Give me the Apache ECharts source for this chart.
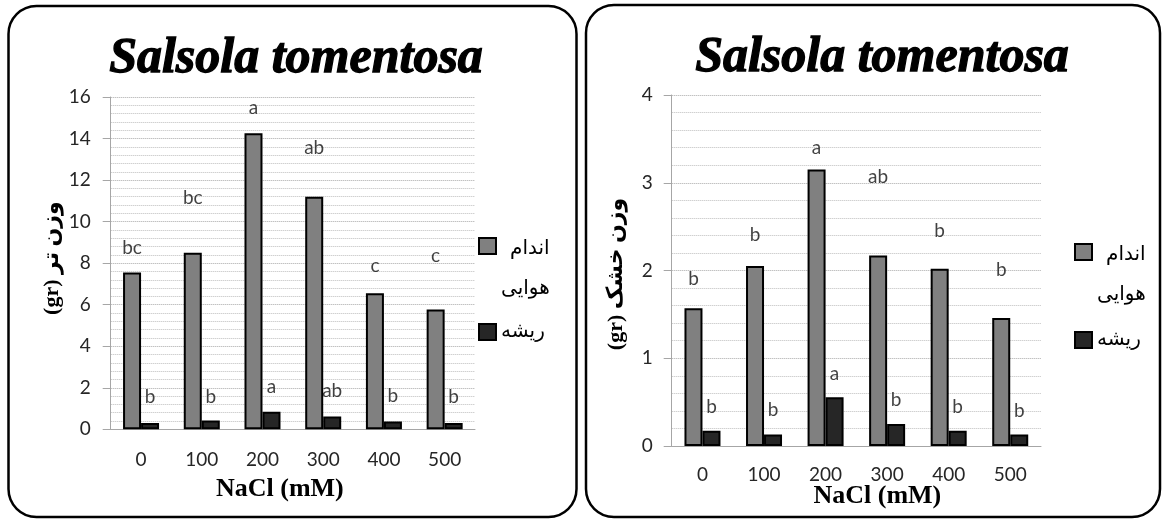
<!DOCTYPE html>
<html><head><meta charset="utf-8">
<script src="https://cdn.jsdelivr.net/npm/echarts@6/dist/echarts.min.js"></script>
<style>html,body{margin:0;padding:0;background:#fff}#c{width:1163px;height:521px}</style>
</head><body><div id="c"></div><script>
const categories = ['0', '100', '200', '300', '400', '500'];
const shootName = 'اندام هوایی';
const rootName = 'ریشه';
const chartTitle = 'Salsola tomentosa';
const xName = 'NaCl (mM)';
const freshYName = '(gr) وزن تر';
const dryYName = '(gr) وزن خشک';
const freshShoot = [7.55, 8.5, 14.25, 11.2, 6.55, 5.77];
const freshRoot = [0.3, 0.42, 0.85, 0.62, 0.37, 0.3];
const dryShoot = [1.57, 2.05, 3.15, 2.17, 2.02, 1.46];
const dryRoot = [0.175, 0.13, 0.555, 0.25, 0.175, 0.13];
const freshShootLetters = ['bc', 'bc', 'a', 'ab', 'c', 'c'];
const freshRootLetters = ['b', 'b', 'a', 'ab', 'b', 'b'];
const dryShootLetters = ['b', 'b', 'a', 'ab', 'b', 'b'];
const dryRootLetters = ['b', 'b', 'a', 'b', 'b', 'b'];
const freshShootLetterY = [8.73, 11.14, 15.5, 13.54, 7.86, 8.35];
const freshRootLetterY = [1.54, 1.57, 2.02, 1.86, 1.6, 1.54];
const dryShootLetterY = [1.9, 2.41, 3.4, 3.07, 2.45, 2.01];
const dryRootLetterY = [0.45, 0.41, 0.82, 0.52, 0.45, 0.4];

const AX = '#a6a6a6';
const LBL = {fontFamily: 'Lato', fontSize: 19, color: '#262626'};
function xAxis(gi, gap, pad) {
  return {
    type: 'category', gridIndex: gi, data: categories,
    axisLine: {lineStyle: {color: AX, width: 1}},
    axisTick: {length: 7, lineStyle: {color: AX}},
    axisLabel: Object.assign({margin: gi === 0 ? 22 : 20, lineHeight: 18}, LBL),
    name: xName, nameLocation: 'middle', nameGap: gap, nameMoveOverlap: false,
    nameTextStyle: {fontFamily: 'Liberation Serif', fontWeight: 'bold', fontSize: 26, lineHeight: 26, color: '#000', padding: pad}
  };
}
function yAxis(gi, max, interval, name, gap, pad, margin) {
  return {
    type: 'value', gridIndex: gi, min: 0, max: max, interval: interval,
    axisLine: {show: true, lineStyle: {color: AX, width: 1}},
    axisTick: {show: true, length: 8, lineStyle: {color: AX}},
    axisLabel: Object.assign({margin: margin}, LBL),
    splitLine: {show: true, lineStyle: {color: '#a8a8a8', type: 'dotted', width: 1}},
    minorTick: {show: false, splitNumber: 5},
    minorSplitLine: {show: true, lineStyle: {color: '#bdbdbd', type: 'dotted', width: 1}},
    name: name, nameLocation: 'middle', nameGap: gap, nameMoveOverlap: false,
    nameTextStyle: {fontFamily: "'Liberation Serif','DejaVu Sans'", fontWeight: 'bold', fontSize: 22, color: '#000', padding: pad}
  };
}
function bar(name, gi, data, color) {
  return {type: 'bar', name: name, xAxisIndex: gi, yAxisIndex: gi, data: data, barWidth: 18, barGap: '0%',
    itemStyle: {color: color, borderColor: '#000', borderWidth: 2}, z: 3};
}
function letters(gi, ys, txt, dx) {
  return {type: 'scatter', xAxisIndex: gi, yAxisIndex: gi, symbolSize: 1, silent: true, z: 5,
    itemStyle: {color: 'rgba(0,0,0,0)'},
    data: ys.map((y, i) => [i, y]),
    label: {show: true, position: 'inside', offset: [dx, 0], formatter: p => txt[p.dataIndex],
      fontFamily: 'Lato', fontSize: 19, color: '#111'}};
}
function legends(left, top1, top2) {
  return [
    {data: [shootName], orient: 'vertical', left: left, top: top1, padding: 0, itemWidth: 17, itemHeight: 16,
      icon: 'rect', selectedMode: false, itemGap: 0,
      formatter: () => '{a|اندام}\n{a|هوایی}',
      textStyle: {padding: [46, 0, 0, 0], rich: {a: {align: 'right', fontFamily: 'DejaVu Sans', fontSize: 20, lineHeight: 40, color: '#000'}}}},
    {data: [rootName], orient: 'vertical', left: left, top: top2, padding: 0, itemWidth: 17, itemHeight: 16,
      icon: 'rect', selectedMode: false,
      textStyle: {fontFamily: 'DejaVu Sans', fontSize: 20, lineHeight: 16, color: '#000'}}
  ];
}
const titleStyle = {fontFamily: 'Liberation Serif', fontStyle: 'italic', fontWeight: 'bold', fontSize: 50, lineHeight: 50, color: '#000',
  textBorderColor: '#000', textBorderWidth: 1.3};
const chart = echarts.init(document.getElementById('c'));
chart.setOption({
  backgroundColor: '#fff',
  animation: false,
  title: [
    {text: chartTitle, left: 296, top: 34, textAlign: 'center', padding: 0, textStyle: titleStyle},
    {text: chartTitle, left: 882, top: 33, textAlign: 'center', padding: 0, textStyle: titleStyle}
  ],
  graphic: [
    {type: 'rect', shape: {x: 8.5, y: 6, width: 568, height: 511, r: 28}, style: {fill: 'none', stroke: '#000', lineWidth: 2.5}, z: 100},
    {type: 'rect', shape: {x: 586, y: 5, width: 574, height: 512, r: 28}, style: {fill: 'none', stroke: '#000', lineWidth: 2.5}, z: 100}
  ],
  legend: legends(478, 237, 322).concat(legends(1074, 243, 330)),
  grid: [
    {left: 110.7, top: 97, width: 364.3, height: 332.3},
    {left: 671.7, top: 95, width: 369.3, height: 351}
  ],
  xAxis: [xAxis(0, 47, [0, 26, 0, 0]), xAxis(1, 37, [0, 0, 0, 42])],
  yAxis: [yAxis(0, 16, 2, freshYName, 47, [0, 0, 0, 10], 20), yAxis(1, 4, 1, dryYName, 44, [0, 7, 0, 0], 19)],
  series: [
    bar(shootName, 0, freshShoot, '#808080'),
    bar(rootName, 0, freshRoot, '#262626'),
    bar(shootName, 1, dryShoot, '#808080'),
    bar(rootName, 1, dryRoot, '#262626'),
    letters(0, freshShootLetterY, freshShootLetters, -9),
    letters(0, freshRootLetterY, freshRootLetters, 9),
    letters(1, dryShootLetterY, dryShootLetters, -9),
    letters(1, dryRootLetterY, dryRootLetters, 9)
  ]
});
</script></body></html>
